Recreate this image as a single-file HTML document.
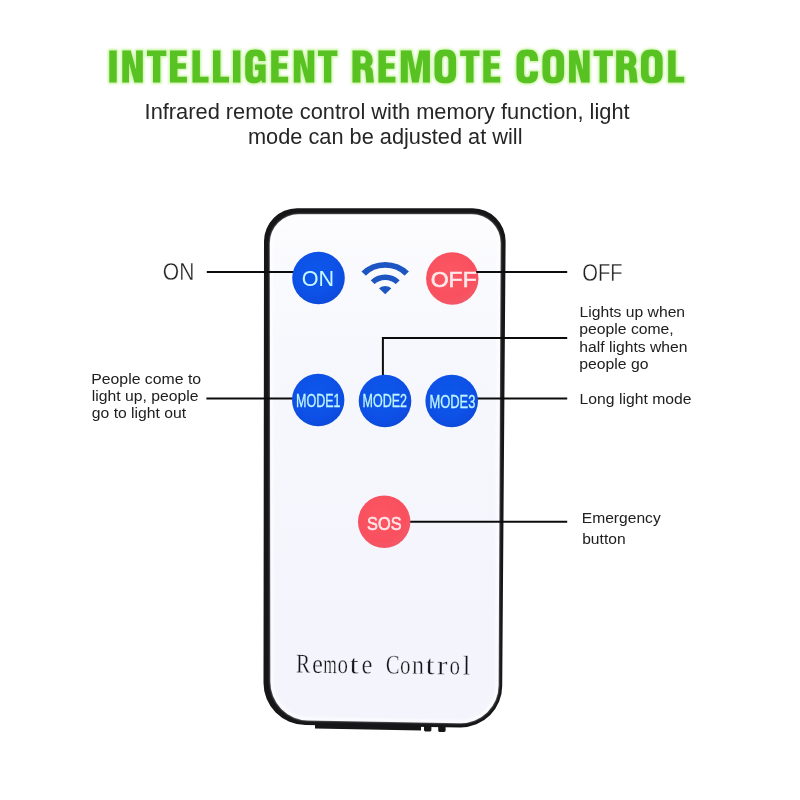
<!DOCTYPE html>
<html>
<head>
<meta charset="utf-8">
<title>Intelligent Remote Control</title>
<style>
  html, body { margin: 0; padding: 0; background: #ffffff; }
  body { width: 800px; height: 800px; overflow: hidden; position: relative; font-family: "Liberation Sans", sans-serif; }
  svg { position: absolute; left: 0; top: 0; display: block; }
  text { font-family: "Liberation Sans", sans-serif; }
  .serif, .serif text { font-family: "Liberation Serif", serif; }
</style>
</head>
<body>
<svg style="opacity:0.999" width="800" height="800" viewBox="0 0 800 800">
  <defs>
    <radialGradient id="gBlue" cx="45%" cy="40%" r="65%">
      <stop offset="0" stop-color="#1058ec"/>
      <stop offset="0.7" stop-color="#0c50e6"/>
      <stop offset="1" stop-color="#0a49d6"/>
    </radialGradient>
    <radialGradient id="gRed" cx="45%" cy="40%" r="65%">
      <stop offset="0" stop-color="#fc5664"/>
      <stop offset="0.7" stop-color="#f9505f"/>
      <stop offset="1" stop-color="#f25a6a"/>
    </radialGradient>
    <linearGradient id="gBody" x1="0" y1="0" x2="0" y2="1">
      <stop offset="0" stop-color="#fcfcfe"/>
      <stop offset="0.25" stop-color="#f7f8fd"/>
      <stop offset="1" stop-color="#f3f4fc"/>
    </linearGradient>
    <clipPath id="wedge"><path d="M385.2 294.3 L338.4 249.3 H432 Z"/></clipPath>
    <filter id="glow" x="-5%" y="-30%" width="110%" height="160%">
      <feGaussianBlur stdDeviation="1.0"/>
    </filter>
    <filter id="soft2" x="-5%" y="-5%" width="110%" height="110%"><feGaussianBlur stdDeviation="1.2"/></filter>
    <filter id="soft" x="-10%" y="-10%" width="120%" height="120%">
      <feGaussianBlur stdDeviation="0.5"/>
    </filter>
  </defs>

  <!-- TITLE-START -->
  <defs>
    <path id="gI" fill-rule="evenodd" d="M0 0h7.4v32h-7.4z"/>
    <path id="gN" fill-rule="evenodd" d="M0 0H8.4L13.8 19.5V0H20.5V32H12.1L6.7 12.3V32H0Z"/>
    <path id="gT" fill-rule="evenodd" d="M0 0H19.3V5.6H13.3V32H6V5.6H0Z"/>
    <path id="gE" fill-rule="evenodd" d="M0 0H16.6V5.6H7.4V12.7H15.9V18.2H7.4V26.3H16.9V32H0Z"/>
    <path id="gL" fill-rule="evenodd" d="M0 0H7.4V26.3H16V32H0Z"/>
    <path id="gO" fill-rule="evenodd" d="M0 9.5C0 2.22 3.24 -0.9 10.8 -0.9C18.36 -0.9 21.6 2.22 21.6 9.5V22.4C21.6 29.68 18.36 32.8 10.8 32.8C3.24 32.8 0 29.68 0 22.4ZM7.6 9.8A3.2 4.3 0 0 1 14 9.8V22.4A3.2 4.3 0 0 1 7.6 22.4Z"/>
    <path id="gC" fill-rule="evenodd" d="M21.5 10.6V9.5C21.5 2.22 18.27 -0.9 10.75 -0.9C3.23 -0.9 0 2.22 0 9.5V22.4C0 29.68 3.23 32.8 10.75 32.8C18.27 32.8 21.5 29.68 21.5 22.4V21H13.6V22.4A3 4.3 0 0 1 7.6 22.4V9.8A3 4.3 0 0 1 13.6 9.8V10.6Z"/>
    <path id="gG" fill-rule="evenodd" d="M20.4 10.4V9.5C20.4 2.22 17.34 -0.9 10.2 -0.9C3.06 -0.9 0 2.22 0 9.5V22.4C0 29.68 2.82 32.8 9.4 32.8C12.6 32.8 15.4 31.2 16 29.4L16.8 32H20.4V14H9.8V19.4H13.3V22.4A2.9 4.3 0 0 1 7.5 22.4V9.8A2.9 4.3 0 0 1 13.3 9.8V10.4Z"/>
    <path id="gR" fill-rule="evenodd" d="M0 0H11.5A8.6 9.3 0 0 1 20.1 9.3A8.6 8 0 0 1 17.3 16.2Q20.2 17.6 20.3 21.5L21.4 32H13.8L12.9 22.3Q12.7 19 10 19H7.9V32H0ZM7.9 5.7H10.6A2.6 3.7 0 0 1 10.6 13.1H7.9Z"/>
    <path id="gM" fill-rule="evenodd" d="M0 0H10.6L14.55 19.6L18.5 0H29.1V32H22.1V8L17.85 32H11.25L7 8V32H0Z"/>
  </defs>
  <g id="titleGlow" fill="#a8ee6c" stroke="#a8ee6c" stroke-width="2.8" stroke-linejoin="round" opacity="0.6" filter="url(#glow)"><use href="#gI" x="109.3" y="50.5"/><use href="#gN" x="122.3" y="50.5"/><use href="#gT" x="147" y="50.5"/><use href="#gE" x="170" y="50.5"/><use href="#gL" x="192.5" y="50.5"/><use href="#gL" x="213" y="50.5"/><use href="#gI" x="233" y="50.5"/><use href="#gG" x="245.2" y="50.5"/><use href="#gE" x="271.2" y="50.5"/><use href="#gN" x="293.8" y="50.5"/><use href="#gT" x="318" y="50.5"/><use href="#gR" x="352.5" y="50.5"/><use href="#gE" x="378.5" y="50.5"/><use href="#gM" x="400.8" y="50.5"/><use href="#gO" x="434.5" y="50.5"/><use href="#gT" x="460.2" y="50.5"/><use href="#gE" x="483.3" y="50.5"/><use href="#gC" x="516.5" y="50.5"/><use href="#gO" x="542.5" y="50.5"/><use href="#gN" x="569.1" y="50.5"/><use href="#gT" x="593.6" y="50.5"/><use href="#gR" x="616.2" y="50.5"/><use href="#gO" x="641" y="50.5"/><use href="#gL" x="668.2" y="50.5"/></g>
  <g id="title" fill="#57c222"><use href="#gI" x="109.3" y="50.5"/><use href="#gN" x="122.3" y="50.5"/><use href="#gT" x="147" y="50.5"/><use href="#gE" x="170" y="50.5"/><use href="#gL" x="192.5" y="50.5"/><use href="#gL" x="213" y="50.5"/><use href="#gI" x="233" y="50.5"/><use href="#gG" x="245.2" y="50.5"/><use href="#gE" x="271.2" y="50.5"/><use href="#gN" x="293.8" y="50.5"/><use href="#gT" x="318" y="50.5"/><use href="#gR" x="352.5" y="50.5"/><use href="#gE" x="378.5" y="50.5"/><use href="#gM" x="400.8" y="50.5"/><use href="#gO" x="434.5" y="50.5"/><use href="#gT" x="460.2" y="50.5"/><use href="#gE" x="483.3" y="50.5"/><use href="#gC" x="516.5" y="50.5"/><use href="#gO" x="542.5" y="50.5"/><use href="#gN" x="569.1" y="50.5"/><use href="#gT" x="593.6" y="50.5"/><use href="#gR" x="616.2" y="50.5"/><use href="#gO" x="641" y="50.5"/><use href="#gL" x="668.2" y="50.5"/></g>
  <!-- TITLE-END -->

  <!-- SUBTITLE -->
  <g fill="#262626" font-size="21.5">
    <text x="144.6" y="118.5" textLength="485" lengthAdjust="spacingAndGlyphs">Infrared remote control with memory function, light</text>
    <text x="248" y="144" textLength="274.5" lengthAdjust="spacingAndGlyphs">mode can be adjusted at will</text>
  </g>

  <!-- REMOTE BODY -->
  <g id="remote">
    <!-- bottom tray + bumps -->
    <path d="M315 722 L421 724.5 L421 730.6 L315 728.4 Z" fill="#161618"/>
    <rect x="424" y="725" width="7.4" height="6.4" rx="1.4" fill="#161618"/>
    <rect x="438.2" y="725" width="7.4" height="7" rx="1.4" fill="#161618"/>
    <!-- outer black shell -->
    <path id="shellOuter" d="M297 208.3 H472.5 A33 33 0 0 1 505.6 241.5 L502.2 685.5 A41.5 41.5 0 0 1 460.3 727.4 L305.5 724.9 A42 42 0 0 1 263.5 682.5 L264 241.3 A33 33 0 0 1 297 208.3 Z" fill="#161618"/>
    <!-- inner face -->
    <path id="shellInner" d="M298.5 214.3 H472 A28.5 28.5 0 0 1 500.6 243 L498.6 685 A38 38 0 0 1 460 723.3 L308.5 720.5 A38.5 38.5 0 0 1 270.4 681.5 L269.8 243 A28.7 28.7 0 0 1 298.5 214.3 Z" fill="url(#gBody)"/>
    <path d="M299.5 216 H471 A27 27 0 0 1 498.9 243 L496.9 685 A36.5 36.5 0 0 1 460 721.6 L309 718.8 A37 37 0 0 1 272 681.5 L271.5 243 A27.5 27.5 0 0 1 299.5 216 Z" fill="none" stroke="#ffffff" stroke-width="3" opacity="0.75" filter="url(#soft2)"/>
  </g>

  <!-- CALLOUT LINES -->
  <g stroke="#0c0c0c" stroke-width="2" fill="none">
    <path d="M206.8 272 H294"/>
    <path d="M476 272 H567.2"/>
    <path d="M206.4 398.4 H294"/>
    <path d="M476 398.6 H567.2"/>
    <path d="M382.9 376 V338 H567.2"/>
    <path d="M406 521.8 H567.2"/>
  </g>

  <!-- BUTTONS -->
  <g id="buttons" filter="url(#soft)">
    <circle cx="318.5" cy="278" r="26.3" fill="url(#gBlue)"/>
    <circle cx="452.3" cy="278.5" r="26.2" fill="url(#gRed)"/>
    <circle cx="318.2" cy="400" r="26.2" fill="url(#gBlue)"/>
    <circle cx="385" cy="401" r="26.3" fill="url(#gBlue)"/>
    <circle cx="451.7" cy="401" r="26.3" fill="url(#gBlue)"/>
    <circle cx="384.2" cy="521.8" r="26.2" fill="url(#gRed)"/>
  </g>

  <!-- callout lines that overlap buttons -->
  <g stroke="#0c0c0c" stroke-width="2" fill="none">
    <path d="M476 272 H480"/>
  </g>

  <!-- BUTTON TEXT -->
  <g id="btntext">
    <text x="318" y="286" text-anchor="middle" font-size="22" fill="#c8f8ff" textLength="32.4" lengthAdjust="spacingAndGlyphs">ON</text>
    <text x="453.7" y="286.5" text-anchor="middle" font-size="22" fill="#ffe8ea" stroke="#ffe8ea" stroke-width="0.6" textLength="46" lengthAdjust="spacingAndGlyphs">OFF</text>
    <text x="318.3" y="406.5" text-anchor="middle" font-size="18" fill="#c0f5ff" stroke="#c0f5ff" stroke-width="0.3" textLength="44.5" lengthAdjust="spacingAndGlyphs">MODE1</text>
    <text x="384.8" y="407.4" text-anchor="middle" font-size="18" fill="#c0f5ff" stroke="#c0f5ff" stroke-width="0.3" textLength="44.5" lengthAdjust="spacingAndGlyphs">MODE2</text>
    <text x="452.4" y="407.8" text-anchor="middle" font-size="18" fill="#c0f5ff" stroke="#c0f5ff" stroke-width="0.3" textLength="46" lengthAdjust="spacingAndGlyphs">MODE3</text>
    <text x="384.3" y="529.6" text-anchor="middle" font-size="19" fill="#ffe8ea" stroke="#ffe8ea" stroke-width="0.6" textLength="34.5" lengthAdjust="spacingAndGlyphs">SOS</text>
  </g>

  <!-- WIFI ICON -->
  <g id="wifi" clip-path="url(#wedge)">
    <circle cx="385.2" cy="296.3" r="31.4" fill="none" stroke="#1d56c2" stroke-width="5.8"/>
    <circle cx="385.2" cy="295.6" r="18.35" fill="none" stroke="#1d56c2" stroke-width="5.5"/>
    <circle cx="385.2" cy="295.9" r="9.9" fill="#1d56c2"/>
  </g>

  <!-- REMOTE CONTROL TEXT -->
  <g id="rc" class="serif" font-size="27" fill="#141418" stroke="#f5f6fc" stroke-width="0.35" text-anchor="middle" transform="rotate(0.62 296 672.6)"><text transform="translate(303 672.6) scale(0.78 1)">R</text><text transform="translate(317.3 672.6) scale(0.9 1)">e</text><text transform="translate(330 672.6) scale(0.64 1)">m</text><text transform="translate(342.75 672.6) scale(0.77 1)">o</text><text transform="translate(354 672.6) scale(1.2 1)">t</text><text transform="translate(367 672.6) scale(0.9 1)">e</text><text transform="translate(392.5 672.6) scale(0.76 1)">C</text><text transform="translate(405.25 672.6) scale(0.77 1)">o</text><text transform="translate(418 672.6) scale(0.88 1)">n</text><text transform="translate(430 672.6) scale(1.2 1)">t</text><text transform="translate(442.25 672.6) scale(1.15 1)">r</text><text transform="translate(454.75 672.6) scale(0.77 1)">o</text><text transform="translate(466.5 672.6) scale(1.0 1)">l</text></g>

  <!-- LABELS -->
  <g fill="#222222" font-size="23.4" stroke="#ffffff" stroke-width="0.35">
    <text x="162.8" y="279.9" textLength="31.6" lengthAdjust="spacingAndGlyphs">ON</text>
    <text x="582.2" y="281.3" textLength="40.4" lengthAdjust="spacingAndGlyphs">OFF</text>
  </g>
  <g fill="#202020" font-size="15.2" lengthAdjust="spacingAndGlyphs">
    <text x="91.2" y="383.7" textLength="110" lengthAdjust="spacingAndGlyphs">People come to</text>
    <text x="91.8" y="401.1" textLength="106.6" lengthAdjust="spacingAndGlyphs">light up, people</text>
    <text x="91.8" y="418.3" textLength="94.3" lengthAdjust="spacingAndGlyphs">go to light out</text>

    <text x="579.5" y="316.9" textLength="105.6" lengthAdjust="spacingAndGlyphs">Lights up when</text>
    <text x="579.3" y="334.3" textLength="94.4" lengthAdjust="spacingAndGlyphs">people come,</text>
    <text x="579.3" y="351.5" textLength="108.2" lengthAdjust="spacingAndGlyphs">half lights when</text>
    <text x="579.3" y="368.9" textLength="69.2" lengthAdjust="spacingAndGlyphs">people go</text>

    <text x="579.5" y="403.5" textLength="112" lengthAdjust="spacingAndGlyphs">Long light mode</text>

    <text x="581.8" y="522.6" textLength="78.9" lengthAdjust="spacingAndGlyphs">Emergency</text>
    <text x="582.2" y="543.8" textLength="43.4" lengthAdjust="spacingAndGlyphs">button</text>
  </g>
</svg>
</body>
</html>
